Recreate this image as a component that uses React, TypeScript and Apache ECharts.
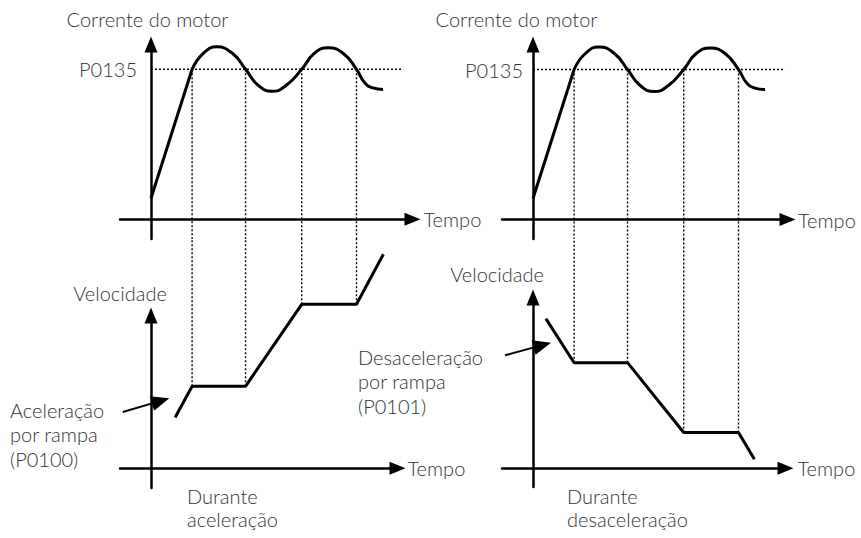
import React, { useEffect, useRef } from "react";
import * as echarts from "echarts";

// ---------- data (time in arbitrary units, current in % of P0135, speed in arbitrary units) ----------
const P0135 = 100;
const crossTimes = [1.5, 3.45, 5.5, 7.5]; // instants where current crosses P0135
const currentRamp = [
  [0, 14],
  [1.5, 100],
];
const currentWave = [
  [1.5, 100],
  [1.9, 110.5],
  [2.4, 115],
  [2.98, 110.5],
  [3.45, 100],
  [3.9, 89.5],
  [4.42, 85.3],
  [4.95, 89.5],
  [5.5, 100],
  [5.95, 110.5],
  [6.47, 114.3],
  [7.02, 110.5],
  [7.5, 100],
  [7.8, 91],
  [8.1, 87.6],
  [8.47, 86.6],
];
const p0135LineEnd = 9.2;
const speedAccel = [
  [0.88, 31],
  [1.5, 50],
  [3.45, 50],
  [5.5, 100],
  [7.5, 100],
  [8.48, 130.5],
];
const speedDecel = [
  [0.47, 91.3],
  [1.5, 64.4],
  [3.45, 64.4],
  [5.5, 21.8],
  [7.5, 21.8],
  [8.08, 5.5],
];
const accelPlateaus = [50, 50, 100, 100];
const decelPlateaus = [64.4, 64.4, 21.8, 21.8];
const accelArrow = [
  [-1.03, 34.3],
  [0.35, 41.1],
];
const decelArrow = [
  [-1.02, 68.9],
  [0.34, 75.1],
];

const currentName = "Corrente do motor";
const speedName = "Velocidade";
const timeName = "Tempo";
const p0135Label = "P0135";
const accelNote = ["Aceleração", "por rampa", "(P0100)"];
const decelNote = ["Desaceleração", "por rampa", "(P0101)"];
const accelCaption = ["Durante", "aceleração"];
const decelCaption = ["Durante", "desaceleração"];

// ---------- layout ----------
const KX = 27.4; // px per time unit
const KI = 1.5; // px per % current
const KV = 1.64; // px per speed unit
const FONT = 'Lato, "Noto Sans", sans-serif';
const WEIGHT = 300;
const TEXT = "#333";
const INK = "#000";
const JUNCTION_Y = 239; // bottom of the upper panels

type Panel = {
  ox: number;
  oy: number;
  left: number;
  right: number;
  top: number;
  bottom: number;
  ky: number;
  tGap: number;
  nGap: number;
  namePad: number;
  labelMargin: number;
  current: boolean;
};

const panels: Panel[] = [
  { ox: 151, oy: 219.3, left: 120, right: 412.5, top: 44.5, bottom: 239, ky: KI, tGap: 11, nGap: 16, namePad: 7, labelMargin: -17, current: true },
  { ox: 533, oy: 219.5, left: 502, right: 787.5, top: 44.5, bottom: 239, ky: KI, tGap: 10.5, nGap: 16, namePad: 33, labelMargin: -21, current: true },
  { ox: 151, oy: 468.3, left: 120, right: 397.5, top: 315.5, bottom: 488, ky: KV, tGap: 10, nGap: 13, namePad: 62, labelMargin: 0, current: false },
  { ox: 533, oy: 468.3, left: 502, right: 785.5, top: 297.5, bottom: 487, ky: KV, tGap: 12, nGap: 14, namePad: 72, labelMargin: 0, current: false },
];

const axisLine = {
  show: true,
  onZero: true,
  symbol: ["none", "triangle"],
  symbolSize: [13, 16],
  lineStyle: { color: INK, width: 2.5 },
};

function buildOption() {
  const grid = panels.map((p) => ({
    left: p.left,
    top: p.top,
    width: p.right - p.left,
    height: p.bottom - p.top,
    containLabel: false,
    outerBoundsMode: "none",
  }));

  const textStyle = { fontFamily: FONT, fontSize: 20, fontWeight: WEIGHT, color: TEXT };

  const xAxis = panels.map((p, i) => ({
    type: "value",
    gridIndex: i,
    min: (p.left - p.ox) / KX,
    max: (p.right - p.ox) / KX,
    name: timeName,
    nameLocation: "end",
    nameGap: p.tGap,
    nameTextStyle: textStyle,
    axisLine,
    axisTick: { show: false },
    axisLabel: { show: false },
    splitLine: { show: false },
  }));

  const yAxis = panels.map((p, i) => ({
    type: "value",
    gridIndex: i,
    min: (p.oy - p.bottom) / p.ky,
    max: (p.oy - p.top) / p.ky,
    name: p.current ? currentName : speedName,
    nameLocation: "end",
    nameGap: p.nGap,
    nameTextStyle: { ...textStyle, padding: [0, p.namePad, 0, 0] },
    axisLine,
    axisTick: { show: false },
    splitLine: { show: false },
    axisLabel: p.current
      ? {
          show: true,
          customValues: [P0135],
          formatter: () => p0135Label,
          margin: p.labelMargin,
          ...textStyle,
        }
      : { show: false },
  }));

  const series: any[] = [];
  const solid = (w: number) => ({ color: INK, width: w, type: "solid" });
  const dotted = { color: INK, width: 1.4, type: [2, 2] };

  [0, 1].forEach((g) => {
    series.push({
      type: "line",
      xAxisIndex: g,
      yAxisIndex: g,
      data: currentRamp,
      showSymbol: false,
      symbol: "none",
      lineStyle: solid(3),
      z: 5,
    });
    series.push({
      type: "line",
      xAxisIndex: g,
      yAxisIndex: g,
      data: currentWave,
      smooth: 0.5,
      showSymbol: false,
      symbol: "none",
      lineStyle: solid(3),
      z: 5,
    });
    series.push({
      type: "line",
      xAxisIndex: g,
      yAxisIndex: g,
      data: [
        [0, P0135],
        [p0135LineEnd, P0135],
      ],
      showSymbol: false,
      symbol: "none",
      lineStyle: dotted,
      z: 2,
    });
    const low = yAxis[g].min as number;
    crossTimes.forEach((t) => {
      series.push({
        type: "line",
        xAxisIndex: g,
        yAxisIndex: g,
        data: [
          [t, P0135],
          [t, low],
        ],
        showSymbol: false,
        symbol: "none",
        lineStyle: dotted,
        z: 2,
      });
    });
  });

  const speedPanels = [
    { g: 2, data: speedAccel, plateaus: accelPlateaus, arrow: accelArrow },
    { g: 3, data: speedDecel, plateaus: decelPlateaus, arrow: decelArrow },
  ];
  speedPanels.forEach(({ g, data, plateaus, arrow }) => {
    const p = panels[g];
    const up = (p.oy - JUNCTION_Y) / p.ky;
    series.push({
      type: "line",
      xAxisIndex: g,
      yAxisIndex: g,
      data,
      clip: false,
      showSymbol: false,
      symbol: "none",
      lineStyle: solid(3),
      z: 5,
      markLine: {
        silent: true,
        animation: false,
        symbol: ["none", "triangle"],
        symbolSize: [15, 18],
        label: { show: false },
        emphasis: { disabled: true },
        lineStyle: { color: INK, width: 2, type: "solid" },
        data: [[{ coord: arrow[0] }, { coord: arrow[1] }]],
      },
    });
    crossTimes.forEach((t, k) => {
      series.push({
        type: "line",
        xAxisIndex: g,
        yAxisIndex: g,
        data: [
          [t, plateaus[k]],
          [t, up],
        ],
        clip: false,
        showSymbol: false,
        symbol: "none",
        lineStyle: dotted,
        z: 2,
      });
    });
  });

  const textEl = (x: number, firstMid: number, lines: string[], lh: number) => ({
    type: "text",
    x,
    y: firstMid - lh / 2,
    silent: true,
    style: {
      text: lines.join("\n"),
      fontFamily: FONT,
      fontSize: 20,
      fontWeight: WEIGHT,
      fill: TEXT,
      lineHeight: lh,
      align: "left",
      verticalAlign: "top",
    },
  });

  const graphic = [
    textEl(10, 409.5, accelNote, 24.5),
    textEl(358, 356.5, decelNote, 24.5),
    textEl(187, 495.5, accelCaption, 23),
    textEl(567, 495.5, decelCaption, 23),
  ];

  return {
    animation: false,
    backgroundColor: "#fff",
    grid,
    xAxis,
    yAxis,
    series,
    graphic,
  };
}

export default function App() {
  const ref = useRef<HTMLDivElement>(null);
  useEffect(() => {
    if (!ref.current) return;
    const chart = echarts.init(ref.current, undefined, { renderer: "svg" });
    chart.setOption(buildOption() as any);
    return () => chart.dispose();
  }, []);
  return (
    <div
      ref={ref}
      style={{ position: "absolute", left: 0, top: 0, width: 861, height: 538, background: "#fff" }}
    />
  );
}
